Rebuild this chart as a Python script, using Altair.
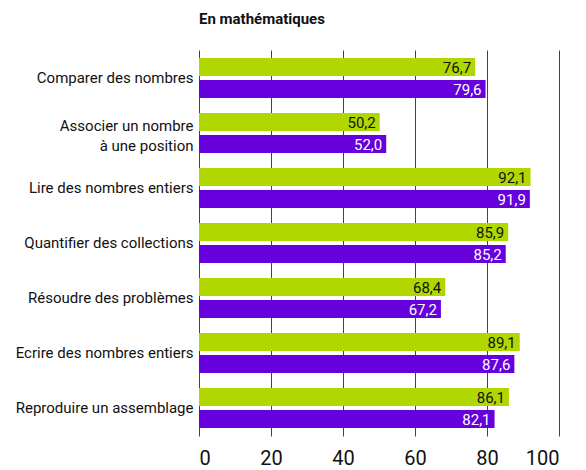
import altair as alt
import pandas as pd

categories = [
    "Comparer des nombres",
    "Associer un nombre à une position",
    "Lire des nombres entiers",
    "Quantifier des collections",
    "Résoudre des problèmes",
    "Ecrire des nombres entiers",
    "Reproduire un assemblage",
]
series_names = ["Série 1", "Série 2"]
values_green = [76.7, 50.2, 92.1, 85.9, 68.4, 89.1, 86.1]
values_purple = [79.6, 52.0, 91.9, 85.2, 67.2, 87.6, 82.1]
x_ticks = list(range(0, 101, 10))

rows = []
for c, g, p in zip(categories, values_green, values_purple):
    rows.append({"cat": c, "series": series_names[0], "value": g})
    rows.append({"cat": c, "series": series_names[1], "value": p})
df = pd.DataFrame(rows)

FONT = "Roboto, sans-serif"
WRAPPED = "Associer un nombre à une position"

y_enc = alt.Y(
    "cat:N",
    sort=categories,
    title=None,
    scale=alt.Scale(paddingInner=0.273, paddingOuter=0.145),
    axis=alt.Axis(
        labelFontSize=15,
        labelFont=FONT,
        labelColor="#111",
        labelPadding=6,
        labelLimit=400,
        ticks=False,
        domain=False,
        grid=False,
        labelLineHeight=20,
        labelOffset={"condition": {"test": f"datum.value == '{WRAPPED}'", "value": -7}, "value": 0},
        labelExpr=f"datum.label == '{WRAPPED}' ? ['Associer un nombre', 'à une position'] : datum.label",
    ),
)
yoff = alt.YOffset("series:N", sort=series_names,
                   scale=alt.Scale(paddingInner=0.182, paddingOuter=0))
x_enc = alt.X(
    "value:Q",
    title=None,
    scale=alt.Scale(domain=[0, 100], nice=False),
    axis=alt.Axis(
        values=x_ticks,
        labelExpr="datum.value % 20 == 0 ? datum.label : ''",
        labelFontSize=20,
        labelFont=FONT,
        labelColor="#111",
        labelPadding=12,
        ticks=False,
        domain=False,
        grid=True,
        gridColor="#444",
        gridWidth=1,
        gridOpacity=1,
    ),
)

bars = alt.Chart(df).mark_bar().encode(
    y=y_enc,
    yOffset=yoff,
    x=x_enc,
    color=alt.Color("series:N", sort=series_names,
                    scale=alt.Scale(domain=series_names, range=["#b0d800", "#6600dd"]),
                    legend=None),
)

text = alt.Chart(df).transform_calculate(
    lab="replace(format(datum.value, '.1f'), '.', ',')"
).mark_text(align="right", baseline="middle", dx=-4, dy=1, fontSize=15, font=FONT).encode(
    y=alt.Y("cat:N", sort=categories),
    yOffset=yoff,
    x=alt.X("value:Q"),
    text="lab:N",
    color=alt.condition(alt.datum.series == series_names[0], alt.value("#111"), alt.value("#ffffff")),
)

chart = alt.layer(bars, text).properties(
    width=360,
    height=386,
    padding={"left": 191, "top": 42, "right": 19, "bottom": 34},
    autosize=alt.AutoSizeParams(type="none"),
    title=alt.TitleParams("En mathématiques", anchor="start", frame="group", font=FONT,
                          fontSize=15, fontWeight="bold", color="#111", offset=23),
).configure_view(stroke=None)

chart.save("out.html", embed_options={"renderer": "svg", "actions": False})
